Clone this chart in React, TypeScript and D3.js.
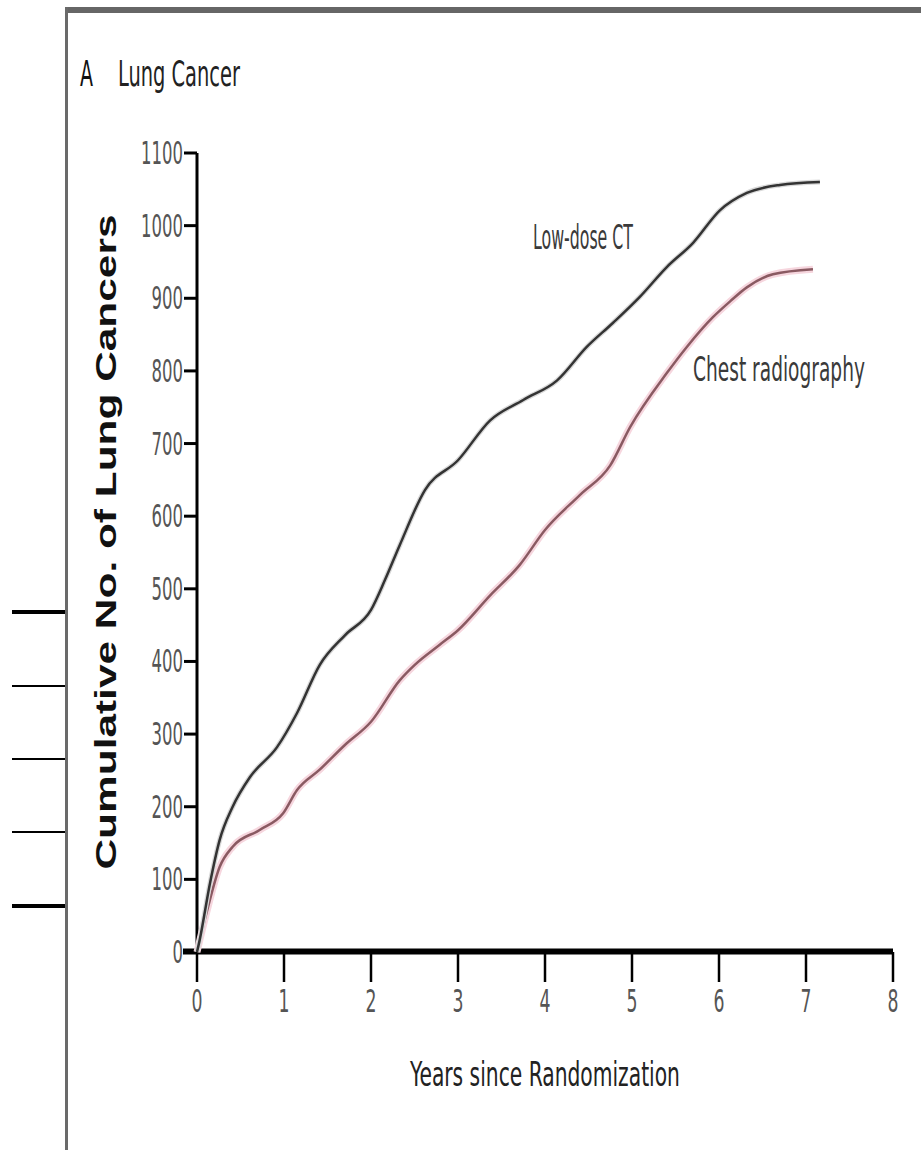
import { useRef, useEffect } from 'react';
import * as d3 from 'd3';

const W = 921;
const H = 1154;

// Low-dose CT arm
const CT_YEARS = [0, 0.03, 0.15, 0.26, 0.41, 0.61, 0.92, 1.15, 1.41, 1.7, 2.0, 2.16, 2.33, 2.62, 3.0, 3.37, 3.75, 4.14, 4.48, 4.78, 5.09, 5.4, 5.7, 6.01, 6.32, 6.7, 7.16];
const CT_COUNTS = [0, 16, 95, 154, 200, 241, 282, 329, 395, 436, 471, 512, 560, 636, 677, 732, 760, 787, 833, 866, 902, 943, 976, 1021, 1045, 1056, 1060];

// Chest radiography arm
const CXR_YEARS = [0, 0.11, 0.26, 0.41, 0.72, 0.99, 1.15, 1.41, 1.7, 2.0, 2.33, 2.5, 2.79, 3.0, 3.37, 3.71, 4.0, 4.4, 4.75, 4.98, 5.4, 5.63, 5.93, 6.13, 6.32, 6.62, 7.08];
const CXR_COUNTS = [0, 54, 117, 145, 168, 191, 223, 251, 285, 317, 374, 395, 423, 443, 491, 533, 581, 629, 670, 723, 797, 833, 874, 896, 915, 933, 940];

const Y_TICKS = [0, 100, 200, 300, 400, 500, 600, 700, 800, 900, 1000, 1100];
const X_TICKS = [0, 1, 2, 3, 4, 5, 6, 7, 8];

const NARROW = "'Liberation Sans Narrow', 'DejaVu Sans Condensed', 'Liberation Sans', sans-serif";

export default function App() {
  const ref = useRef<SVGSVGElement | null>(null);

  useEffect(() => {
    const svg = d3.select(ref.current);
    svg.selectAll('*').remove();

    const x = d3.scaleLinear().domain([0, 8]).range([197, 893]);
    const y = d3.scaleLinear().domain([0, 1100]).range([952, 153]);

    svg.append('rect').attr('width', W).attr('height', H).attr('fill', '#fff');

    // page frame
    svg.append('line').attr('x1', 65).attr('x2', W).attr('y1', 10).attr('y2', 10)
      .attr('stroke', '#666').attr('stroke-width', 6);
    svg.append('line').attr('x1', 66.5).attr('x2', 66.5).attr('y1', 7).attr('y2', 1150)
      .attr('stroke', '#6a6a6a').attr('stroke-width', 3);

    // margin marks on the left edge
    [[612, 4], [686, 2], [759, 2], [832, 2], [906, 4]].forEach(([my, sw]) => {
      svg.append('line').attr('x1', 12).attr('x2', 65).attr('y1', my).attr('y2', my)
        .attr('stroke', '#000').attr('stroke-width', sw);
    });

    // squeeze a text horizontally to a target width (anchor: start | middle | end)
    const squeezed = (px: number, py: number, str: string, w: number, size: number,
      fill: string, anchor = 'start') => {
      const g = svg.append('g');
      const t = g.append('text').attr('font-family', NARROW).attr('font-size', size)
        .attr('fill', fill).attr('text-anchor', anchor).text(str);
      const natural = (t.node() as SVGTextElement).getComputedTextLength() || w;
      g.attr('transform', `translate(${px},${py}) scale(${w / natural},1)`);
      return t;
    };

    // panel title
    squeezed(80, 86, 'A', 13, 36, '#111');
    squeezed(118, 86, 'Lung Cancer', 122, 36, '#222');

    // y axis
    svg.append('line').attr('x1', 197).attr('x2', 197).attr('y1', y(1100)).attr('y2', y(0) + 2)
      .attr('stroke', '#000').attr('stroke-width', 3);
    Y_TICKS.forEach(t => {
      svg.append('line').attr('x1', 184).attr('x2', 197).attr('y1', y(t)).attr('y2', y(t))
        .attr('stroke', '#000').attr('stroke-width', 3);
      const label = String(t);
      squeezed(183, y(t) + 11, label, label.length * 10.5, 32, '#555', 'end');
    });

    // x axis
    svg.append('line').attr('x1', 183).attr('x2', 893).attr('y1', 951.5).attr('y2', 951.5)
      .attr('stroke', '#000').attr('stroke-width', 6);
    X_TICKS.forEach(t => {
      svg.append('line').attr('x1', x(t)).attr('x2', x(t)).attr('y1', 952).attr('y2', 982)
        .attr('stroke', '#000').attr('stroke-width', 2.5);
      squeezed(x(t), 1012, String(t), 11, 32, '#555', 'middle');
    });

    // axis titles
    squeezed(545, 1086, 'Years since Randomization', 270, 34, '#222', 'middle');
    svg.append('text')
      .attr('transform', 'translate(116,542) rotate(-90)')
      .attr('text-anchor', 'middle').attr('font-family', "'Liberation Sans', Arial, sans-serif")
      .attr('font-weight', 700).attr('font-size', 30).attr('fill', '#111')
      .attr('textLength', 655).attr('lengthAdjust', 'spacingAndGlyphs')
      .text('Cumulative No. of Lung Cancers');

    // curves
    const line = d3.line<[number, number]>()
      .x(d => x(d[0])).y(d => y(d[1])).curve(d3.curveMonotoneX);
    const ct = CT_YEARS.map((t, i) => [t, CT_COUNTS[i]] as [number, number]);
    const cxr = CXR_YEARS.map((t, i) => [t, CXR_COUNTS[i]] as [number, number]);

    svg.append('path').datum(cxr).attr('fill', 'none').attr('stroke', '#f6d6de')
      .attr('stroke-width', 7).attr('d', line);
    svg.append('path').datum(cxr).attr('fill', 'none').attr('stroke', '#8a5a62')
      .attr('stroke-width', 2.5).attr('d', line);
    svg.append('path').datum(ct).attr('fill', 'none').attr('stroke', '#d8d8d8')
      .attr('stroke-width', 5).attr('d', line);
    svg.append('path').datum(ct).attr('fill', 'none').attr('stroke', '#333')
      .attr('stroke-width', 2.5).attr('d', line);

    // series labels
    squeezed(533, 249, 'Low-dose CT', 100, 34, '#3a3a3a');
    squeezed(693, 381, 'Chest radiography', 172, 34, '#3a3a3a');
  }, []);

  return (
    <svg ref={ref} width={W} height={H}
      style={{ position: 'absolute', left: 0, top: 0, display: 'block' }} />
  );
}
